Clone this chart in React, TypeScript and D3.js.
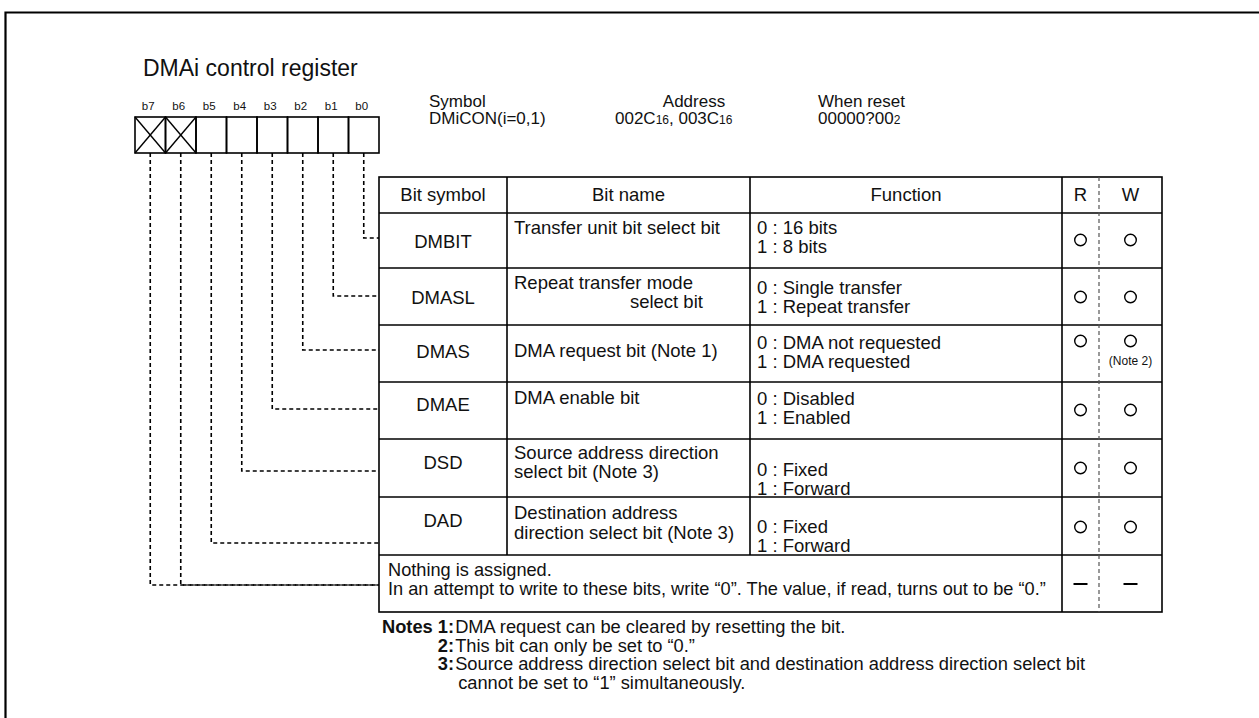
import React from "react";
import * as d3 from "d3";

// ---------- data ----------
const title = "DMAi control register";
const bits = ["b7", "b6", "b5", "b4", "b3", "b2", "b1", "b0"];
const reservedBits = ["b7", "b6"];
const headers = ["Bit symbol", "Bit name", "Function", "R", "W"];
const rowBits = ["b0", "b1", "b2", "b3", "b4", "b5"];
const bitSymbols = ["DMBIT", "DMASL", "DMAS", "DMAE", "DSD", "DAD"];
const bitNames = [
  ["Transfer unit bit select bit"],
  ["Repeat transfer mode", "select bit"],
  ["DMA request bit (Note 1)"],
  ["DMA enable bit"],
  ["Source address direction", "select bit (Note 3)"],
  ["Destination address", "direction select bit (Note 3)"],
];
const functions = [
  ["0 : 16 bits", "1 : 8 bits"],
  ["0 : Single transfer", "1 : Repeat transfer"],
  ["0 : DMA not requested", "1 : DMA requested"],
  ["0 : Disabled", "1 : Enabled"],
  ["0 : Fixed", "1 : Forward"],
  ["0 : Fixed", "1 : Forward"],
];
const readMarks = ["O", "O", "O", "O", "O", "O"];
const writeMarks = ["O", "O", "O", "O", "O", "O"];
const writeNotes = ["", "", "(Note 2)", "", "", ""];
const reservedText = [
  "Nothing is assigned.",
  "In an attempt to write to these bits, write \u201c0\u201d. The value, if read, turns out to be  \u201c0.\u201d",
];
const noteNums = ["Notes 1:", "2:", "3:", ""];
const noteLines = [
  "DMA request can be cleared by resetting the bit.",
  "This bit can only be set to \u201c0.\u201d",
  "Source address direction select bit and destination address direction select bit",
  "cannot be set to \u201c1\u201d simultaneously.",
];

// ---------- layout ----------
const FONT = "'Liberation Sans', Arial, Helvetica, sans-serif";
const TF = 18.5; // table font size
const NF = 18.3; // notes font size
const HF = 17; // header info font size
const colEdges = [379, 507, 750, 1062, 1099, 1162];
const tableTop = 177;
const rowHeights = [36, 55, 57, 57, 57, 58, 58, 57];
const rowTops = [tableTop, ...d3.cumsum(rowHeights).map((v) => tableTop + v)];

const rowLayout = [
  { label: 35, name: [21], func: [21, 39.5], circ: 27, lead: 25 },
  { label: 36, name: [21, 40], func: [26, 44.5], circ: 29, lead: 28 },
  { label: 33, name: [32], func: [24, 42.5], circ: 16, lead: 25 },
  { label: 29, name: [22], func: [23, 41.5], circ: 28, lead: 27 },
  { label: 30, name: [20, 39], func: [37, 55.5], circ: 29, lead: 32 },
  { label: 30, name: [22, 42], func: [36, 54.5], circ: 30, lead: 46 },
];
const reservedLayout = { text: [21, 40], mark: 29, lead: 30 };
const noteBaselines = [633, 651.5, 670, 688.5];

let ctx: CanvasRenderingContext2D | null = null;
function measure(text: string, size: number, weight = "normal") {
  if (!ctx) ctx = document.createElement("canvas").getContext("2d");
  if (!ctx) return text.length * size * 0.5;
  ctx.font = `${weight} ${size}px 'Liberation Sans', Arial, sans-serif`;
  return ctx.measureText(text).width;
}

export default function App() {
  const bitX = d3.scaleBand<string>().domain(bits).range([135, 379]).padding(0);
  const boxTop = 117;
  const boxBottom = 153;
  const bw = bitX.bandwidth();
  const cx = (b: string) => (bitX(b) as number) + bw / 2;

  const tableLeft = colEdges[0];
  const tableRight = colEdges[colEdges.length - 1];
  const tableBottom = rowTops[rowTops.length - 1];
  const rCx = (colEdges[3] + colEdges[4]) / 2;
  const wCx = (colEdges[4] + colEdges[5]) / 2;
  const reservedTop = rowTops[7];

  const dash = "4 3";
  const nameX = colEdges[1] + 7;
  const line1End = nameX + measure(bitNames[1][0], TF);
  const notesLeft = 382;
  const numEnd = notesLeft + measure(noteNums[0], NF, "bold");

  return (
    <div style={{ position: "fixed", left: 0, top: 0 }}>
      <svg width={1259} height={718} style={{ display: "block", background: "#fff" }} fontFamily={FONT}>
        {/* frame */}
        <path d="M5.5,718 L5.5,12.5 L1259,12.5" fill="none" stroke="#000" strokeWidth={2.2} />

        {/* title */}
        <text x={143} y={76} fontSize={23} fill="#111">{title}</text>

        {/* bit labels & boxes */}
        {bits.map((b) => (
          <g key={b}>
            <text x={cx(b) - 2} y={110} fontSize={11.5} textAnchor="middle" fill="#111">{b}</text>
            <rect x={bitX(b)} y={boxTop} width={bw} height={boxBottom - boxTop} fill="none" stroke="#000" strokeWidth={1.6} />
            {reservedBits.includes(b) && (
              <g stroke="#000" strokeWidth={1.4}>
                <line x1={bitX(b)} y1={boxTop} x2={(bitX(b) as number) + bw} y2={boxBottom} />
                <line x1={(bitX(b) as number) + bw} y1={boxTop} x2={bitX(b)} y2={boxBottom} />
              </g>
            )}
          </g>
        ))}

        {/* symbol / address / reset */}
        <g fontSize={HF} fill="#111">
          <text x={429} y={107}>Symbol</text>
          <text x={429} y={124}>DMiCON(i=0,1)</text>
          <text x={694} y={107} textAnchor="middle">Address</text>
          <text x={615} y={124}>
            002C<tspan fontSize={12}>16</tspan>
            <tspan>, 003C</tspan>
            <tspan fontSize={12}>16</tspan>
          </text>
          <text x={818} y={107}>When reset</text>
          <text x={818} y={124}>
            00000?00<tspan fontSize={12}>2</tspan>
          </text>
        </g>

        {/* dashed leader lines */}
        <g fill="none" stroke="#000" strokeWidth={1.6} strokeDasharray={dash}>
          {rowBits.map((b, i) => {
            const y = rowTops[i + 1] + rowLayout[i].lead;
            return <path key={b} d={`M${cx(b)},${boxBottom} L${cx(b)},${y} L${tableLeft},${y}`} />;
          })}
          {reservedBits.map((b) => {
            const y = reservedTop + reservedLayout.lead;
            return <path key={b} d={`M${cx(b)},${boxBottom} L${cx(b)},${y} L${tableLeft},${y}`} />;
          })}
        </g>

        {/* table grid */}
        <g stroke="#000" strokeWidth={1.6} fill="none">
          <rect x={tableLeft} y={tableTop} width={tableRight - tableLeft} height={tableBottom - tableTop} />
          {rowTops.slice(1, -1).map((y, i) => (
            <line key={i} x1={tableLeft} x2={tableRight} y1={y} y2={y} />
          ))}
          {[colEdges[1], colEdges[2]].map((x, i) => (
            <line key={i} x1={x} x2={x} y1={tableTop} y2={reservedTop} />
          ))}
          <line x1={colEdges[3]} x2={colEdges[3]} y1={tableTop} y2={tableBottom} />
        </g>
        <line x1={colEdges[4]} x2={colEdges[4]} y1={tableTop} y2={tableBottom} stroke="#555" strokeWidth={1.2} strokeDasharray="4 3" />

        {/* header */}
        <g fontSize={TF} fill="#111" textAnchor="middle">
          {headers.map((h, i) => (
            <text key={h} x={(colEdges[i] + colEdges[i + 1]) / 2} y={tableTop + 24}>{h}</text>
          ))}
        </g>

        {/* rows */}
        {bitSymbols.map((s, i) => {
          const top = rowTops[i + 1];
          const L = rowLayout[i];
          return (
            <g key={s} fontSize={TF} fill="#111">
              <text x={(colEdges[0] + colEdges[1]) / 2} y={top + L.label} textAnchor="middle">{s}</text>
              {bitNames[i].map((t, k) =>
                i === 1 && k === 1 ? (
                  <text key={k} x={line1End + 10} y={top + L.name[k]} textAnchor="end">{t}</text>
                ) : (
                  <text key={k} x={nameX} y={top + L.name[k]}>{t}</text>
                )
              )}
              {functions[i].map((t, k) => (
                <text key={k} x={colEdges[2] + 7} y={top + L.func[k]}>{t}</text>
              ))}
              {readMarks[i] === "O" && (
                <circle cx={rCx} cy={top + L.circ} r={5.8} fill="none" stroke="#000" strokeWidth={1.4} />
              )}
              {writeMarks[i] === "O" && (
                <circle cx={wCx} cy={top + L.circ} r={5.8} fill="none" stroke="#000" strokeWidth={1.4} />
              )}
              {writeNotes[i] && (
                <text x={wCx} y={top + L.circ + 24} fontSize={12} textAnchor="middle">{writeNotes[i]}</text>
              )}
            </g>
          );
        })}

        {/* reserved row */}
        <g fontSize={18.2} fill="#111">
          {reservedText.map((t, k) => (
            <text key={k} x={tableLeft + 9} y={reservedTop + reservedLayout.text[k]}>{t}</text>
          ))}
        </g>
        <g stroke="#000" strokeWidth={2}>
          <line x1={rCx - 7} x2={rCx + 7} y1={reservedTop + reservedLayout.mark} y2={reservedTop + reservedLayout.mark} />
          <line x1={wCx - 7} x2={wCx + 7} y1={reservedTop + reservedLayout.mark} y2={reservedTop + reservedLayout.mark} />
        </g>

        {/* notes */}
        <g fontSize={NF} fill="#111">
          {noteLines.map((t, k) => (
            <g key={k}>
              {noteNums[k] && (
                <text x={k === 0 ? notesLeft : numEnd} y={noteBaselines[k]} textAnchor={k === 0 ? "start" : "end"} fontWeight="bold">
                  {noteNums[k]}
                </text>
              )}
              <text x={numEnd + (noteNums[k] ? 1 : 4)} y={noteBaselines[k]}>{t}</text>
            </g>
          ))}
        </g>
      </svg>
    </div>
  );
}
